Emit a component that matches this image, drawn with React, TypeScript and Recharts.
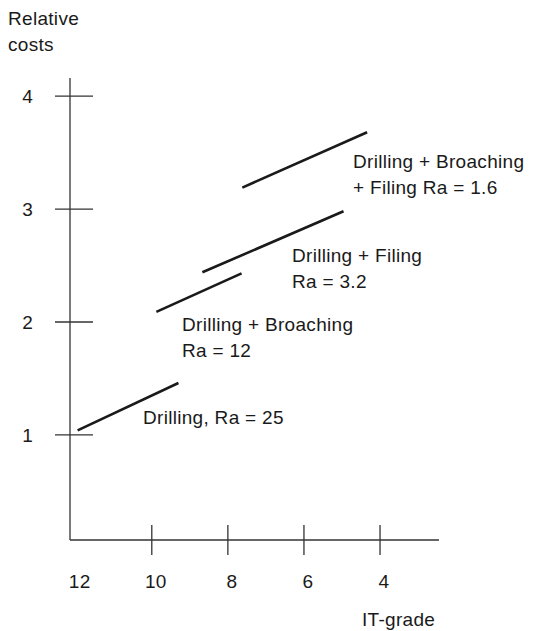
import { Line, LineChart, XAxis, YAxis } from 'recharts';

const FONT = '"Liberation Sans", Arial, sans-serif';
const INK = '#1a1a1a';

// IT-grade ticks (x, reversed) and relative cost ticks (y)
const itGradeTicks = [12, 10, 8, 6, 4];
const costTicks = [1, 2, 3, 4];

// each process is a short straight segment: [start, end]
const drilling = [
  { grade: 11.95, cost: 1.04 },
  { grade: 9.3, cost: 1.46 },
];
const drillingBroaching = [
  { grade: 9.88, cost: 2.09 },
  { grade: 7.64, cost: 2.43 },
];
const drillingFiling = [
  { grade: 8.67, cost: 2.44 },
  { grade: 4.96, cost: 2.98 },
];
const drillingBroachingFiling = [
  { grade: 7.62, cost: 3.19 },
  { grade: 4.34, cost: 3.68 },
];

const drillingLabel = ['Drilling, Ra = 25'];
const drillingBroachingLabel = ['Drilling + Broaching', 'Ra = 12'];
const drillingFilingLabel = ['Drilling + Filing', 'Ra = 3.2'];
const drillingBroachingFilingLabel = ['Drilling + Broaching', '+ Filing Ra = 1.6'];

const yTitle = ['Relative', 'costs'];
const xTitle = 'IT-grade';

const textStyle = { fontFamily: FONT, fontSize: 19, fill: INK, letterSpacing: 0.3 };

function XTick({ x, y, payload }: any) {
  return (
    <g>
      {payload.value !== 12 && (
        <line x1={x} x2={x} y1={y - 15} y2={y + 15} stroke="#333" strokeWidth={1.3} />
      )}
      <text x={x + 4} y={y + 48} textAnchor="middle" style={textStyle}>
        {payload.value}
      </text>
    </g>
  );
}

function YTick({ x, y, payload }: any) {
  return (
    <g>
      <line x1={x - 15} x2={x + 23} y1={y} y2={y} stroke="#333" strokeWidth={1.3} />
      <text x={x - 37} y={y + 7} textAnchor="end" style={textStyle}>
        {payload.value}
      </text>
    </g>
  );
}

function TextBlock({ lines, x, y }: { lines: string[]; x: number; y: number }) {
  return (
    <text style={textStyle}>
      {lines.map((l, i) => (
        <tspan key={i} x={x} y={y + i * 25.5}>
          {l}
        </tspan>
      ))}
    </text>
  );
}

const series = [drilling, drillingBroaching, drillingFiling, drillingBroachingFiling];

export default function App() {
  return (
    <div style={{ position: 'absolute', left: 0, top: 0, width: 537, height: 631, background: '#fff' }}>
      <LineChart width={537} height={631} margin={{ top: 78, right: 98, bottom: 0, left: 0 }}>
        <XAxis
          type="number"
          dataKey="grade"
          domain={[2.45, 12.15]}
          reversed
          ticks={itGradeTicks}
          tick={<XTick />}
          tickSize={0}
          tickMargin={0}
          height={91}
          axisLine={{ stroke: '#333', strokeWidth: 1.3 }}
          allowDataOverflow
        />
        <YAxis
          type="number"
          dataKey="cost"
          domain={[0.07, 4.16]}
          ticks={costTicks}
          tick={<YTick />}
          tickSize={0}
          tickMargin={0}
          width={70}
          axisLine={{ stroke: '#333', strokeWidth: 1.3 }}
          allowDataOverflow
        />
        {series.map((d, i) => (
          <Line
            key={i}
            data={d}
            dataKey="cost"
            type="linear"
            stroke={INK}
            strokeWidth={2.6}
            dot={false}
            activeDot={false}
            isAnimationActive={false}
          />
        ))}
      </LineChart>
      <svg width={537} height={631} style={{ position: 'absolute', left: 0, top: 0, pointerEvents: 'none' }}>
        <TextBlock lines={yTitle} x={8} y={25} />
        <TextBlock lines={[xTitle]} x={362} y={626} />
        <TextBlock lines={drillingLabel} x={143} y={424} />
        <TextBlock lines={drillingBroachingLabel} x={182} y={331} />
        <TextBlock lines={drillingFilingLabel} x={292} y={262} />
        <TextBlock lines={drillingBroachingFilingLabel} x={353} y={168} />
      </svg>
    </div>
  );
}
